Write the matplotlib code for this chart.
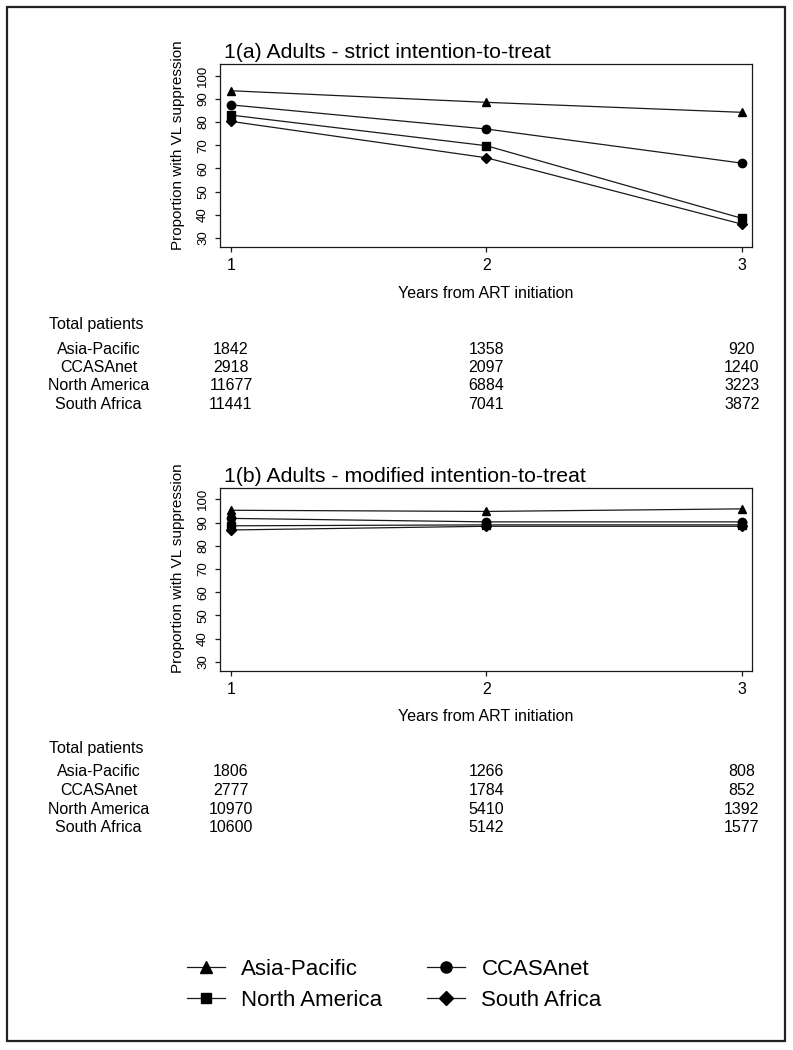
import matplotlib
matplotlib.use("Agg")
import matplotlib.pyplot as plt
import matplotlib.patches as mpatches
import matplotlib.transforms as mtransforms
from matplotlib.lines import Line2D

plt.rcParams["font.family"] = ["Liberation Sans", "DejaVu Sans"]

# ── Data ──────────────────────────────────────────────────────────────────────
years = [1, 2, 3]
regions = ["Asia-Pacific", "CCASAnet", "North America", "South Africa"]
markers = ["^", "o", "s", "D"]

# 1(a) strict intention-to-treat (% with VL suppression)
strict_asia = [93.5, 88.5, 84.2]
strict_ccas = [87.4, 77.0, 62.3]
strict_na = [83.0, 69.8, 38.5]
strict_sa = [80.3, 64.6, 36.0]

# 1(b) modified intention-to-treat
mod_asia = [95.3, 94.8, 95.9]
mod_ccas = [91.8, 90.3, 90.3]
mod_na = [88.6, 89.0, 89.0]
mod_sa = [86.8, 88.4, 88.4]

# Total patients at each year
n_strict_asia = [1842, 1358, 920]
n_strict_ccas = [2918, 2097, 1240]
n_strict_na = [11677, 6884, 3223]
n_strict_sa = [11441, 7041, 3872]

n_mod_asia = [1806, 1266, 808]
n_mod_ccas = [2777, 1784, 852]
n_mod_na = [10970, 5410, 1392]
n_mod_sa = [10600, 5142, 1577]

yticks = [30, 40, 50, 60, 70, 80, 90, 100]

W, H = 793, 1050
LINE = "#1a1a1a"


def fy(px):
    """Pixel row (from top) to figure fraction."""
    return 1 - px / H


def draw_panel(ax, title, series):
    for vals, mk in zip(series, markers):
        ms = 6.0 if mk in ("^", "o") else 5.2
        ax.plot(years, vals, color=LINE, linewidth=0.9, marker=mk,
                markersize=ms, markerfacecolor="black", markeredgecolor="black")
    ax.set_xlim(0.957, 3.04)
    ax.set_ylim(26.0, 104.9)
    ax.set_xticks(years)
    ax.set_yticks(yticks)
    ax.tick_params(axis="both", direction="out", length=3.8, width=0.9,
                   color=LINE)
    ax.tick_params(axis="x", labelsize=11.5, pad=4)
    ax.tick_params(axis="y", labelsize=9.5, pad=4, labelrotation=90)
    for lab in ax.get_yticklabels():
        lab.set_va("center")
    for sp in ax.spines.values():
        sp.set_linewidth(0.9)
        sp.set_color(LINE)
    ax.set_xlabel("Years from ART initiation", fontsize=11.5, labelpad=9)
    ax.set_ylabel("Proportion with VL suppression", fontsize=11)
    ax.yaxis.set_label_coords(-0.066, 0.56)
    ax.text(0.007, 1.035, title, transform=ax.transAxes, fontsize=15.3,
            ha="left", va="baseline")


def draw_table(fig, ax, counts, head_px, row_px):
    fig.text(49 / W, fy(head_px), "Total patients", fontsize=11.5,
             ha="left", va="center")
    trans = mtransforms.blended_transform_factory(ax.transData, fig.transFigure)
    for name, vals, rp in zip(regions, counts, row_px):
        fig.text(98.5 / W, fy(rp), name, fontsize=11.5, ha="center", va="center")
        for x, v in zip(years, vals):
            fig.text(x, fy(rp), str(v), transform=trans, fontsize=11.5,
                     ha="center", va="center")


fig = plt.figure(figsize=(W / 100, H / 100), dpi=100)

ax_a = fig.add_axes([220 / W, fy(247.3), 532 / W, (247.3 - 64.3) / H])
ax_b = fig.add_axes([220 / W, fy(671), 532 / W, (671 - 488) / H])

draw_panel(ax_a, "1(a) Adults - strict intention-to-treat",
           [strict_asia, strict_ccas, strict_na, strict_sa])
draw_panel(ax_b, "1(b) Adults - modified intention-to-treat",
           [mod_asia, mod_ccas, mod_na, mod_sa])

draw_table(fig, ax_a, [n_strict_asia, n_strict_ccas, n_strict_na, n_strict_sa],
           325, [349, 367.5, 386, 404.5])
draw_table(fig, ax_b, [n_mod_asia, n_mod_ccas, n_mod_na, n_mod_sa],
           748, [772, 790.5, 809, 827.5])

# Legend (order: row-wise Asia-Pacific, CCASAnet / North America, South Africa)
handles = [Line2D([], [], color=LINE, linewidth=0.9, marker=mk,
                  markersize=8 if mk in ("^", "o") else 7,
                  markerfacecolor="black", markeredgecolor="black")
           for mk in markers]
order = [0, 2, 1, 3]
fig.legend([handles[i] for i in order], [regions[i] for i in order],
           ncol=2, frameon=False, fontsize=16, loc="upper left",
           bbox_to_anchor=(187 / W, fy(959)), borderpad=0, borderaxespad=0,
           handlelength=1.7, handletextpad=0.75, columnspacing=2.0,
           labelspacing=0.45)

# Outer frame
fig.add_artist(mpatches.Rectangle((7 / W, fy(1041)), 778 / W, 1034 / H,
                                  transform=fig.transFigure, fill=False,
                                  edgecolor="#222222", linewidth=1.6))

fig.savefig("out.png", dpi=100, facecolor="white")
